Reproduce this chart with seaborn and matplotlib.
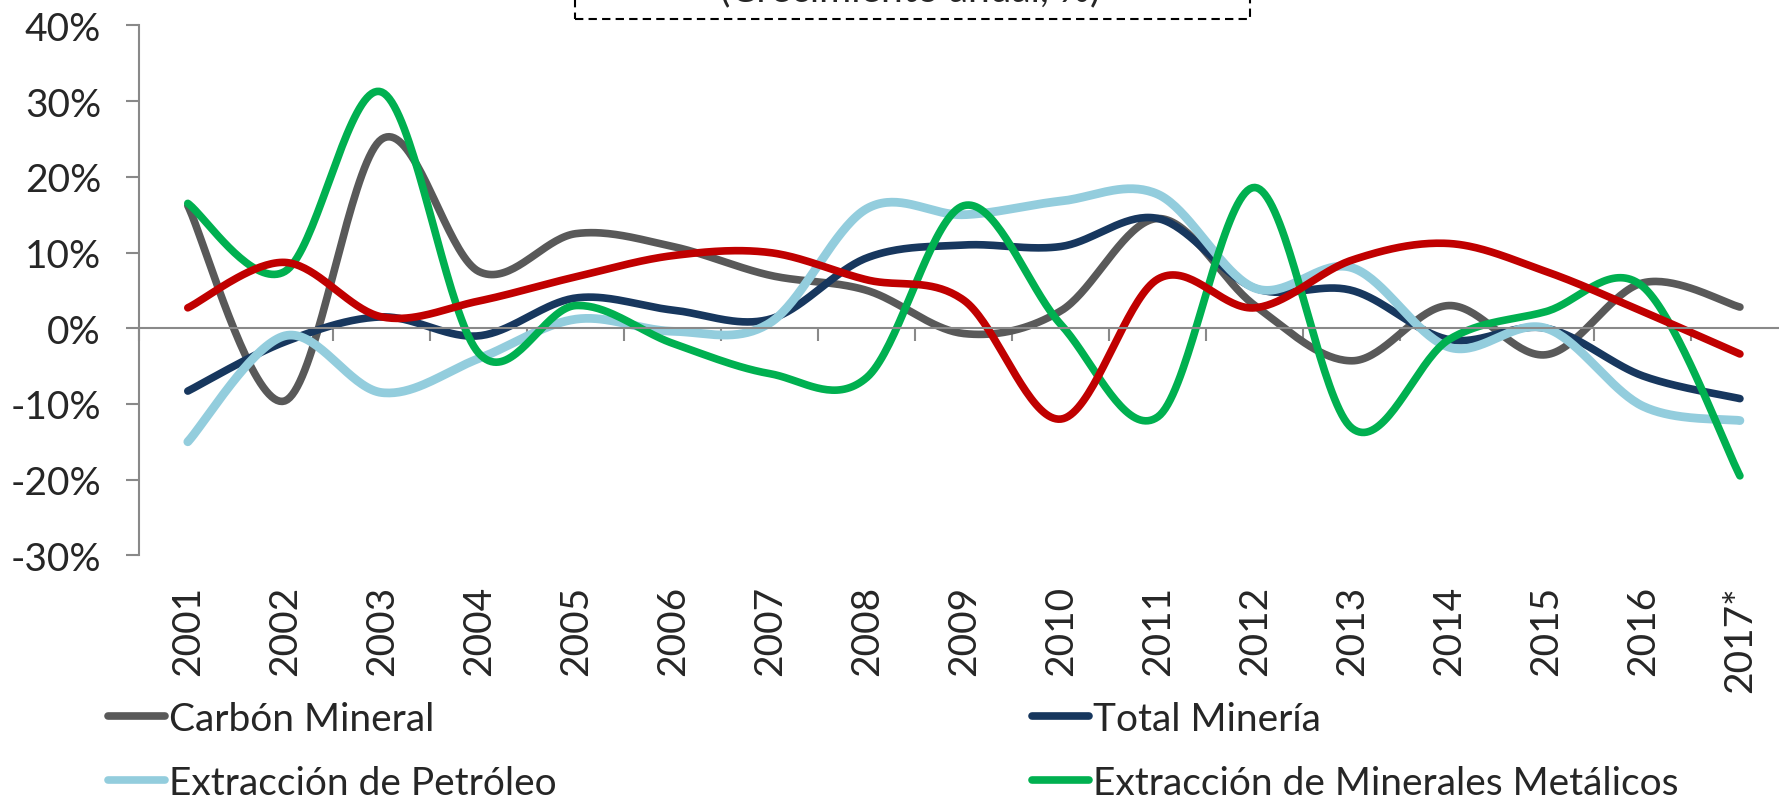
import numpy as np
import pandas as pd
import seaborn as sns
import matplotlib
matplotlib.use("Agg")
import matplotlib.pyplot as plt
from matplotlib.patches import Rectangle
from matplotlib.ticker import FixedLocator, PercentFormatter

# Crecimiento anual por subsector minero (fraccion)
years = ['2001', '2002', '2003', '2004', '2005', '2006', '2007', '2008', '2009',
         '2010', '2011', '2012', '2013', '2014', '2015', '2016', '2017*']
carbon = [0.162, -0.096, 0.250, 0.075, 0.125, 0.108, 0.070, 0.050, -0.007,
          0.023, 0.145, 0.030, -0.043, 0.030, -0.035, 0.060, 0.028]
total = [-0.083, -0.018, 0.015, -0.010, 0.040, 0.024, 0.012, 0.093, 0.110,
         0.108, 0.145, 0.053, 0.050, -0.015, 0.000, -0.063, -0.093]
petroleo = [-0.150, -0.010, -0.085, -0.040, 0.012, -0.004, 0.007, 0.158, 0.150,
            0.168, 0.177, 0.053, 0.080, -0.025, 0.000, -0.103, -0.122]
metalicos = [0.165, 0.075, 0.312, -0.033, 0.030, -0.020, -0.060, -0.065, 0.162,
             0.005, -0.117, 0.186, -0.132, -0.015, 0.022, 0.055, -0.195]
no_metalicos = [0.027, 0.087, 0.015, 0.036, 0.068, 0.096, 0.100, 0.064, 0.037,
                -0.120, 0.065, 0.027, 0.090, 0.112, 0.075, 0.022, -0.034]

names = ['Carbón Mineral', 'Total Minería', 'Extracción de Petróleo',
         'Extracción de Minerales Metálicos', 'Extracción de Minerales No Metálicos']
values = [carbon, total, petroleo, metalicos, no_metalicos]
colors = ['#595959', '#17375E', '#93CDDD', '#00B050', '#C00000']


def smooth(ys, steps=40):
    # curva de Bezier como la "linea suavizada" de Excel
    p = np.column_stack([np.arange(len(ys), dtype=float), np.asarray(ys, float)])
    n = len(p)
    out = []
    t = np.linspace(0, 1, steps)[:, None]
    for i in range(n - 1):
        p0, p1 = p[i], p[i + 1]
        pm = p[max(i - 1, 0)]
        pn = p[min(i + 2, n - 1)]
        c1 = p0 + (p1 - pm) / 6
        c2 = p1 - (pn - p0) / 6
        seg = ((1 - t) ** 3) * p0 + 3 * ((1 - t) ** 2) * t * c1 + 3 * (1 - t) * t ** 2 * c2 + t ** 3 * p1
        out.append(seg if i == 0 else seg[1:])
    return np.vstack(out)


frames = []
for name, ys in zip(names, values):
    xy = smooth(ys)
    frames.append(pd.DataFrame({'x': xy[:, 0], 'y': xy[:, 1], 'serie': name}))
df = pd.concat(frames, ignore_index=True)

sns.set_style("white")
plt.rcParams['font.family'] = ['Lato', 'DejaVu Sans']
plt.rcParams['axes.unicode_minus'] = False

fig = plt.figure(figsize=(17.79, 8.03), dpi=100)
ax = fig.add_axes([0.0783, 0.3072, 0.927, 0.6598])

sns.lineplot(data=df, x='x', y='y', hue='serie', hue_order=names,
             palette=dict(zip(names, colors)), sort=False, estimator=None,
             linewidth=5.5, ax=ax)
for line in ax.lines:
    line.set_solid_capstyle('round')
ax.lines[2].set_linewidth(6.3)

gray = '#898989'
ax.set_xlim(-0.5, 16.5)
ax.set_ylim(-0.30, 0.40)
ax.set_xlabel('')
ax.set_ylabel('')
ax.yaxis.set_major_locator(FixedLocator(np.round(np.arange(-0.3, 0.41, 0.1), 2)))
ax.yaxis.set_major_formatter(PercentFormatter(1.0, decimals=0))
ax.set_xticks(range(len(years)))
ax.set_xticklabels(years)
ax.set_xticks(np.arange(-0.5, len(years)), minor=True)

for s in ['top', 'right']:
    ax.spines[s].set_visible(False)
ax.spines['bottom'].set_position(('data', 0))
for s in ['bottom', 'left']:
    ax.spines[s].set_color(gray)
    ax.spines[s].set_linewidth(1.5)

ax.tick_params(axis='y', which='major', direction='out', length=9.5, width=1.5,
               color=gray, labelsize=28, pad=18, left=True)
ax.tick_params(axis='x', which='major', length=0, labelsize=28, pad=185,
               labelrotation=90)
ax.tick_params(axis='x', which='minor', direction='out', length=9.5, width=1.5,
               color=gray, bottom=True)

# leyenda en dos columnas (la tercera fila queda fuera del lienzo)
handles, labels = ax.get_legend_handles_labels()
ax.get_legend().remove()
order = [0, 2, 4, 1, 3]
leg = fig.legend([handles[i] for i in order], [labels[i] for i in order],
                 loc='upper left', bbox_to_anchor=(108 / 1779, 1 - 702 / 803),
                 ncol=2, frameon=False, fontsize=28, handlelength=1.47,
                 handletextpad=0.1, columnspacing=5.55, labelspacing=0.71,
                 borderpad=0, borderaxespad=0)
for h in leg.get_lines():
    h.set_linewidth(5.5)

# recuadro del titulo, cortado en el borde superior
fig.patches.append(Rectangle((575 / 1779, 1 - 20 / 803), 675 / 1779, 0.3,
                             fill=False, edgecolor='black', linewidth=1.5,
                             linestyle=(0, (4, 2.5)), transform=fig.transFigure,
                             figure=fig))
fig.text(910 / 1779, 1 - 1 / 803, '(Crecimiento anual, %)', ha='center',
         va='baseline', fontsize=28)

fig.savefig('out.png', dpi=100)
